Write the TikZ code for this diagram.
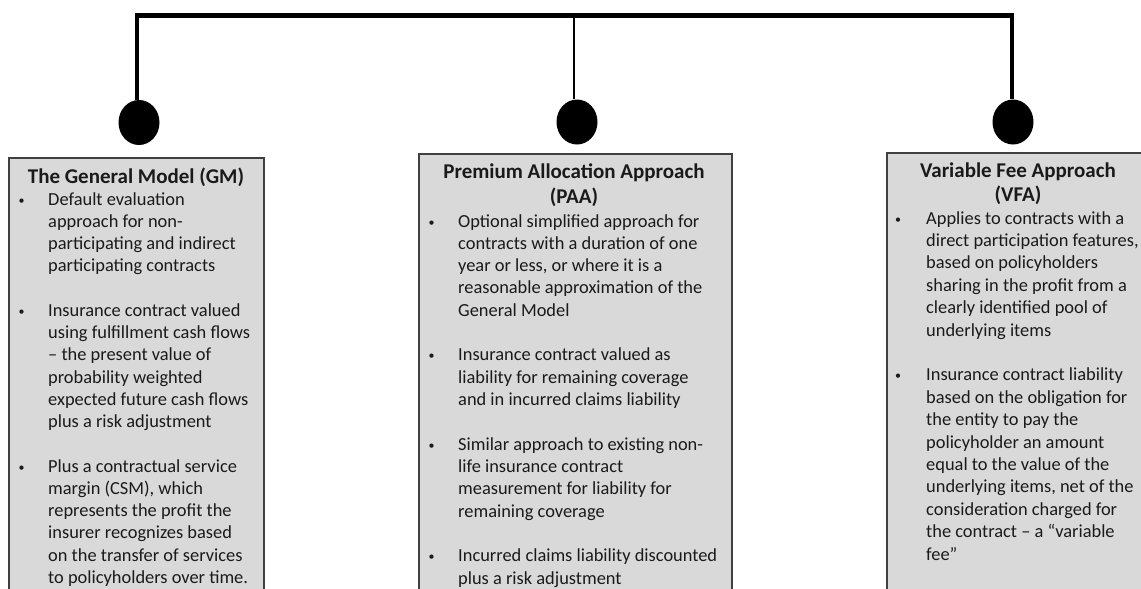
\documentclass[tikz,border=0pt]{standalone}
\usepackage{fontspec}
\setmainfont{Carlito}
\usetikzlibrary{shapes.geometric}
\definecolor{boxfill}{HTML}{D9D9D9}
\definecolor{boxline}{HTML}{404040}
\definecolor{ink}{HTML}{1A1A1A}
\newcommand{\bodyfnt}{\fontsize{18.4}{22.3}\selectfont}
\newcommand{\bulfnt}{\fontsize{12}{14}\selectfont}
\newcommand{\ttlfnt}{\bfseries\fontsize{21}{25}\selectfont}
\begin{document}
\begin{tikzpicture}[x=1pt,y=-1pt,
  panel/.style={draw=boxline, fill=boxfill, line width=1.6pt, anchor=north west, inner sep=0, minimum height=460},
  dot/.style={ellipse, fill=black, inner sep=0, minimum width=41, minimum height=45},
  txt/.style={anchor=base west, inner sep=0, font=\bodyfnt, text=ink},
  bul/.style={anchor=base, inner sep=0, font=\bulfnt, text=ink},
  ttl/.style={anchor=base, inner sep=0, font=\ttlfnt, text=ink},
  hub/.style={line width=5.6pt, draw=black},
  drop/.style={draw=black}]
\useasboundingbox (0,0) rectangle (1141,589);
\clip (0,0) rectangle (1141,589);
% panels
\node[panel, minimum width=255] (gmbox) at (8,157) {};
\node[panel, minimum width=313] (paabox) at (418,153) {};
\node[panel, minimum width=270] (vfabox) at (886,152) {};
% titles
\node[ttl] (gmt) at (136,183) {The General Model (GM)};
\node[ttl] (paat1) at (574,178) {Premium Allocation Approach};
\node[ttl] (paat2) at (574,203) {(PAA)};
\node[ttl] (vfat1) at (1018,177) {Variable Fee Approach};
\node[ttl] (vfat2) at (1018,201) {(VFA)};
% left panel text
\foreach \n/\t in {0/Default evaluation, 1/approach for non-, 2/participating and indirect, 3/participating contracts,
  5/Insurance contract valued, 6/using fulfillment cash flows, 7/– the present value of, 8/probability weighted,
  9/expected future cash flows, 10/plus a risk adjustment, 12/Plus a contractual service, 13/{margin (CSM), which},
  14/represents the profit the, 15/insurer recognizes based, 16/on the transfer of services, 17/to policyholders over time.}
  \node[txt] (gm-\n) at (48,205+\n*22.25) {\t};
\foreach \n in {0,5,12}
  \node[bul] (gmb-\n) at (21.5,204+\n*22.25) {•};
% middle panel text
\foreach \n/\t in {0/Optional simplified approach for, 1/contracts with a duration of one, 2/{year or less, or where it is a},
  3/reasonable approximation of the, 4/General Model, 6/Insurance contract valued as, 7/liability for remaining coverage,
  8/and in incurred claims liability, 10/Similar approach to existing non-, 11/life insurance contract,
  12/measurement for liability for, 13/remaining coverage, 15/Incurred claims liability discounted, 16/plus a risk adjustment}
  \node[txt] (paa-\n) at (458,227+\n*22.33) {\t};
\foreach \n in {0,6,10,15}
  \node[bul] (paab-\n) at (431.7,226+\n*22.33) {•};
% right panel text
\foreach \n/\t in {0/Applies to contracts with a, 1/{direct participation features,}, 2/based on policyholders,
  3/sharing in the profit from a, 4/clearly identified pool of, 5/underlying items, 7/Insurance contract liability,
  8/based on the obligation for, 9/the entity to pay the, 10/policyholder an amount, 11/equal to the value of the,
  12/{underlying items, net of the}, 13/consideration charged for, 14/the contract – a “variable, 15/fee”}
  \node[txt] (vfa-\n) at (926,224+\n*22.4) {\t};
\foreach \n in {0,7}
  \node[bul] (vfab-\n) at (898,223+\n*22.4) {•};
% dots
\node[dot] (gmdot) at (139,122.5) {};
\node[dot] (paadot) at (577,122) {};
\node[dot] (vfadot) at (1013,122) {};
% hub line and drops
\coordinate (hubL) at (135,15.5);
\coordinate (hubR) at (1014,15.5);
\coordinate (dropL) at (137,15.5);
\coordinate (dropM) at (574,15.5);
\coordinate (dropR) at (1012,15.5);
\draw[drop, line width=4pt] (dropL) -- (dropL |- gmdot.north);
\draw[drop, line width=2.7pt] (dropM) -- (dropM |- paadot.north);
\draw[drop, line width=3.4pt] (dropR) -- (dropR |- vfadot.north);
\draw[hub] (hubL) -- (hubR);
\end{tikzpicture}
\end{document}
